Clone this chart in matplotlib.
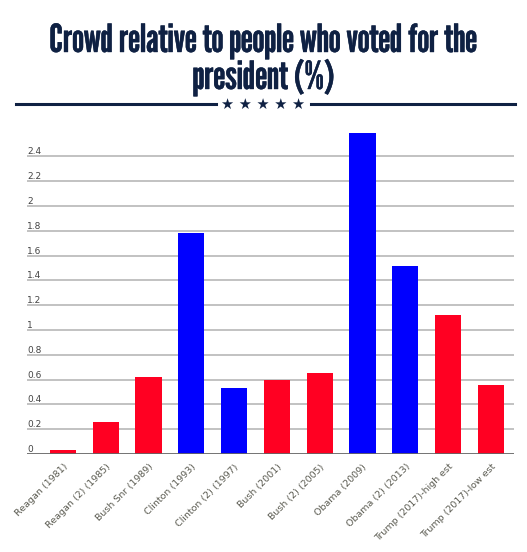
import matplotlib.pyplot as plt
import matplotlib.patheffects as pe
from matplotlib import font_manager

presidents = ["Reagan (1981)", "Reagan (2) (1985)", "Bush Snr (1989)", "Clinton (1993)",
              "Clinton (2) (1997)", "Bush (2001)", "Bush (2) (2005)", "Obama (2009)",
              "Obama (2) (2013)", "Trump (2017)-high est", "Trump (2017)-low est"]
crowd_pct = [0.03, 0.26, 0.62, 1.78, 0.53, 0.60, 0.65, 2.59, 1.52, 1.12, 0.56]
party = ["R", "R", "R", "D", "D", "R", "R", "D", "D", "R", "R"]
y_ticks = [0, 0.2, 0.4, 0.6, 0.8, 1, 1.2, 1.4, 1.6, 1.8, 2, 2.2, 2.4]

party_colors = {"R": "#ff0022", "D": "#0000ff"}
navy = "#0f2143"

names = {f.name for f in font_manager.fontManager.ttflist}
title_font = "DejaVu Sans"
for cand in ["League Gothic", "Oswald", "Antonio"]:
    if cand in names:
        title_font = cand
        break

W, H = 527, 552
fig = plt.figure(figsize=(W / 100, H / 100), dpi=100)
ax = fig.add_axes([27 / W, (H - 454) / H, (514 - 27) / W, (454 - 125) / H])

x = range(len(presidents))
colors = [party_colors[p] for p in party]
ax.bar(x, crowd_pct, width=0.61, color=colors, zorder=3)

ax.set_xlim(-0.84, 10.54)
ax.set_ylim(0, 2.653)

# gridlines, labels sit just above them
for v in y_ticks[1:]:
    ax.axhline(v, color="#bdbdbd", lw=1.3, zorder=1)
for v in y_ticks:
    ax.text(0.0, v, f"{v:g}", transform=ax.get_yaxis_transform(),
            ha="left", va="bottom", fontsize=6.5, color="#444444",
            family="DejaVu Sans")
ax.axhline(0, color="#666666", lw=2, zorder=4)

ax.set_yticks([])
ax.set_xticks(list(x))
ax.set_xticklabels(presidents, rotation=45, ha="right", rotation_mode="anchor",
                   fontsize=6.8, color="#5a5a50")
ax.tick_params(axis="x", length=0, pad=6)
for s in ax.spines.values():
    s.set_visible(False)

heavy = [pe.withStroke(linewidth=0.3, foreground=navy)]
t1 = fig.text(0.5, (H - 52) / H, "Crowd relative to people who voted for the",
              ha="center", va="baseline", fontsize=28,
              family=title_font, color=navy, path_effects=heavy)
t2 = fig.text(0.5, (H - 89) / H, "president (%)",
              ha="center", va="baseline", fontsize=28,
              family=title_font, color=navy, path_effects=heavy)
# fit first title line to ~428px wide
r = fig.canvas.get_renderer()
w = t1.get_window_extent(r).width
fs = 28 * 428 / w
t1.set_fontsize(fs)
t2.set_fontsize(fs)

# rule with stars under the title
yl = (H - 104) / H
fig.add_artist(plt.Line2D([16 / W, 216 / W], [yl, yl], color=navy, lw=2.2))
fig.add_artist(plt.Line2D([311 / W, 515 / W], [yl, yl], color=navy, lw=2.2))
fig.text(0.5, yl, "★ ★ ★ ★ ★", ha="center", va="center", fontsize=10.5,
         color=navy, family="DejaVu Sans")

fig.savefig("out.png", dpi=100)
